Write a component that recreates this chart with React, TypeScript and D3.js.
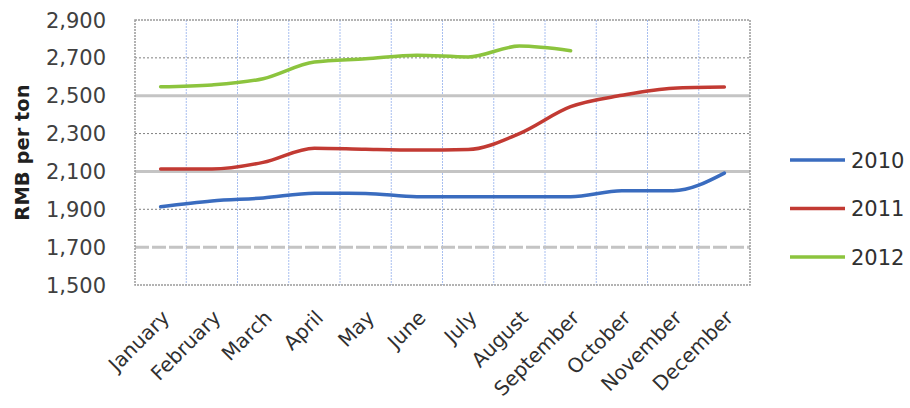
import React from "react";
import * as d3 from "d3";

const months = ["January", "February", "March", "April", "May", "June", "July", "August", "September", "October", "November", "December"];
const yTicks = [1500, 1700, 1900, 2100, 2300, 2500, 2700, 2900];
const v2010 = [1913, 1944, 1960, 1985, 1984, 1966, 1966, 1966, 1966, 1998, 1998, 2091];
const v2011 = [2113, 2113, 2148, 2223, 2217, 2213, 2216, 2300, 2442, 2502, 2540, 2546];
const v2012 = [2547, 2557, 2590, 2678, 2695, 2714, 2705, 2762, 2738];
const seriesNames = ["2010", "2011", "2012"];
const seriesColors = ["#3a6cbf", "#c23a33", "#8cc43e"];

const W = 910, H = 408;
const plot = { left: 135, right: 750, top: 20, bottom: 285 };

export default function App() {
  const x = d3.scaleBand<string>().domain(months).range([plot.left, plot.right]);
  const y = d3.scaleLinear().domain([1500, 2900]).range([plot.bottom, plot.top]);
  const cx = (m: string) => (x(m) as number) + x.bandwidth() / 2;
  const line = d3
    .line<number>()
    .x((_, i) => cx(months[i]))
    .y((d) => y(d))
    .curve(d3.curveMonotoneX);
  const series = [v2010, v2011, v2012];
  const font = "'DejaVu Sans', Verdana, sans-serif";

  const hStyle = (v: number) => {
    if (v === 2500 || v === 2100) return { stroke: "#c4c4c4", width: 3, dash: undefined as string | undefined };
    if (v === 1700) return { stroke: "#c4c4c4", width: 3, dash: "14 3" };
    return { stroke: "#808080", width: 1, dash: "2 2" };
  };

  return (
    <div style={{ position: "absolute", left: 0, top: 0 }}>
      <svg width={W} height={H} style={{ display: "block", background: "#fff" }}>
        {/* vertical gridlines */}
        {months.slice(1).map((m) => (
          <line key={m} x1={x(m)} x2={x(m)} y1={plot.top} y2={plot.bottom} stroke="#a8bff0" strokeWidth={1} strokeDasharray="2 1" />
        ))}
        {/* horizontal gridlines */}
        {yTicks.slice(1, -1).map((v) => {
          const s = hStyle(v);
          return <line key={v} x1={plot.left} x2={plot.right} y1={y(v)} y2={y(v)} stroke={s.stroke} strokeWidth={s.width} strokeDasharray={s.dash} />;
        })}
        {/* plot border */}
        <rect x={plot.left} y={plot.top} width={plot.right - plot.left} height={plot.bottom - plot.top} fill="none" stroke="#9a9a9a" strokeWidth={1.5} strokeDasharray="2 1" />
        {/* y tick labels */}
        {yTicks.map((v) => (
          <text key={v} x={106} y={y(v)} dy="0.36em" textAnchor="end" fontFamily={font} fontSize={21} fill="#404040">
            {d3.format(",")(v)}
          </text>
        ))}
        <text transform={`translate(29,${(plot.top + plot.bottom) / 2}) rotate(-90)`} textAnchor="middle" fontFamily={font} fontSize={19.5} fontWeight="bold" fill="#202020">
          RMB per ton
        </text>
        {/* x tick labels */}
        {months.map((m) => (
          <text key={m} transform={`translate(${cx(m) + 10},${plot.bottom + 34}) rotate(-45)`} textAnchor="end" fontFamily={font} fontSize={20} fill="#303030">
            {m}
          </text>
        ))}
        {/* series lines */}
        {series.map((vals, i) => (
          <path key={i} d={line(vals) || ""} fill="none" stroke={seriesColors[i]} strokeWidth={3.5} strokeLinejoin="round" strokeLinecap="round" />
        ))}
        {/* legend */}
        {seriesNames.map((n, i) => (
          <g key={n} transform={`translate(790,${160 + i * 48.5})`}>
            <line x1={0} x2={55} y1={0} y2={0} stroke={seriesColors[i]} strokeWidth={3.5} />
            <text x={61} y={0} dy="0.36em" fontFamily={font} fontSize={21} fill="#303030">
              {n}
            </text>
          </g>
        ))}
      </svg>
    </div>
  );
}
